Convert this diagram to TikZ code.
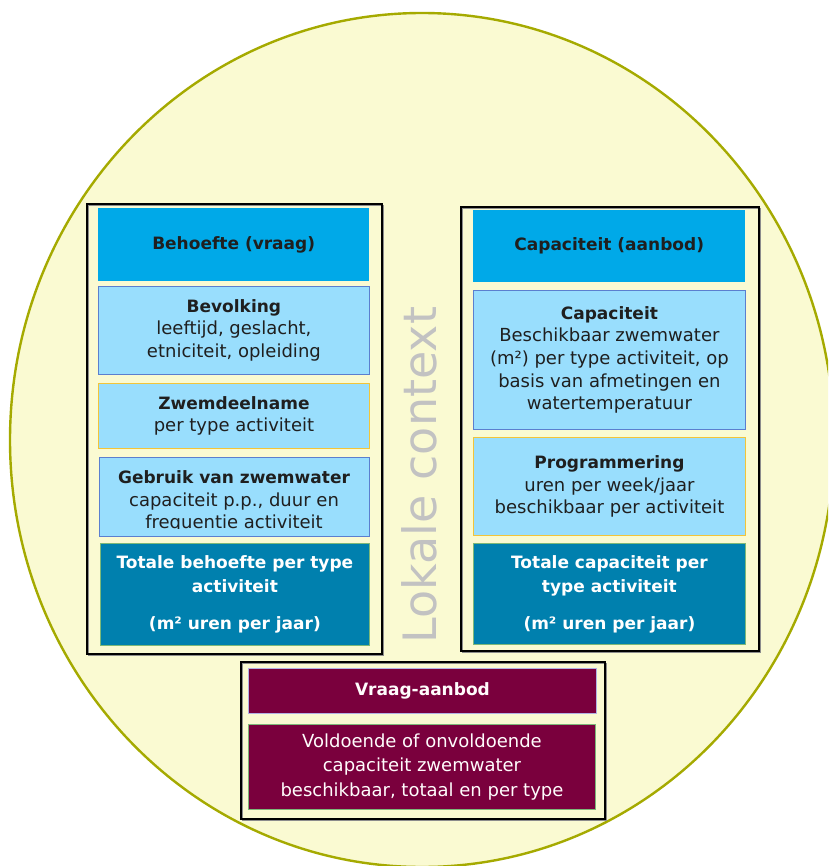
\documentclass[tikz,border=0pt]{standalone}
\usepackage{fontspec}
\setmainfont{DejaVu Sans}
\begin{document}
\begin{tikzpicture}[x=1pt,y=-1pt,
  txt/.style={text=black!88, align=center, font=\fontsize{18}{22.7}\selectfont},
  outerbox/.style={draw=black, line width=2.2pt},
  shadowline/.style={black!45, line width=0.8pt},
  headbox/.style={fill=headblue, draw=none, inner sep=0pt, anchor=north west, text=black!88, font=\fontsize{17}{22}\selectfont\bfseries},
  lbox/.style={fill=lightblue, draw=bordblue, line width=0.8pt, inner sep=0pt, anchor=north west, txt},
  ybox/.style={fill=lightblue, draw=bordyel, line width=0.9pt, inner sep=0pt, anchor=north west, txt},
  tbox/.style={fill=darkteal, draw=bordgreen, line width=0.8pt, inner sep=0pt, anchor=north west, text=white, align=center, font=\fontsize{17}{24}\selectfont\bfseries},
  mbox/.style={fill=maroon, line width=0.9pt, inner sep=0pt, anchor=north west, text=white!95!pink, align=center, font=\fontsize{18}{24.5}\selectfont}]
\definecolor{headblue}{HTML}{00A9E8}
\definecolor{lightblue}{HTML}{99DEFD}
\definecolor{bordblue}{HTML}{5B7FCF}
\definecolor{bordyel}{HTML}{F2C53A}
\definecolor{darkteal}{HTML}{0080AE}
\definecolor{bordgreen}{HTML}{7DB878}
\definecolor{maroon}{HTML}{7A003D}
\definecolor{ellfill}{HTML}{FAFAD2}
\definecolor{elldraw}{HTML}{A5AA00}
\useasboundingbox (0,0) rectangle (828,866);
\begin{scope}
\clip (0,0) rectangle (828,866);
\draw[fill=ellfill, draw=elldraw, line width=2.4pt] (422,440) ellipse [x radius=412, y radius=427];
\end{scope}
% Lokale context
\node[rotate=90, text=black!24, font=\fontsize{46}{46}\selectfont, inner sep=0pt] (ctx) at (419,475) {Lokale context};
% outer boxes
\draw[shadowline] (88,205) rectangle (383,655);
\node[outerbox, minimum width=295, minimum height=450, anchor=north west, inner sep=0pt] (left) at (86,203) {};
\draw[shadowline] (462,208) rectangle (760,652);
\node[outerbox, minimum width=298, minimum height=444, anchor=north west, inner sep=0pt] (right) at (460,206) {};
\draw[shadowline] (242,663) rectangle (606,820);
\node[outerbox, minimum width=364, minimum height=157, anchor=north west, inner sep=0pt] (bottom) at (240,661) {};
% left column
\node[headbox, minimum width=271, minimum height=73] (lhead) at (98,208) {Behoefte (vraag)};
\node[lbox, minimum width=271, minimum height=88] (bev) at (98,286) {\textbf{\fontsize{17}{22}\selectfont Bevolking}\\leeftijd, geslacht,\\etniciteit, opleiding};
\node[ybox, minimum width=271, minimum height=65] (zwem) at (98,383) {\textbf{\fontsize{17}{22}\selectfont Zwemdeelname}\\per type activiteit};
\node[lbox, minimum width=270, minimum height=79] (gebr) at (99,457) {};
\begin{scope}
\clip (100,458) rectangle (368,528.5);
\node[txt] (gebrtxt) at (234,501.5) {\textbf{\fontsize{17}{22}\selectfont Gebruik van zwemwater}\\capaciteit p.p., duur en\\frequentie activiteit};
\end{scope}
\node[tbox, minimum width=269, minimum height=102] (ltot) at (100,543) {Totale behoefte per type\\activiteit\\[13pt](m² uren per jaar)};
% right column
\node[headbox, minimum width=272, minimum height=72] (rhead) at (473,210) {Capaciteit (aanbod)};
\node[lbox, minimum width=272, minimum height=139] (cap) at (473,290) {\textbf{\fontsize{17}{22}\selectfont Capaciteit}\\Beschikbaar zwemwater\\(m²) per type activiteit, op\\basis van afmetingen en\\watertemperatuur};
\node[ybox, minimum width=272, minimum height=98] (prog) at (473,437) {\textbf{\fontsize{17}{22}\selectfont Programmering}\\uren per week/jaar\\beschikbaar per activiteit};
\node[tbox, minimum width=272, minimum height=101] (rtot) at (473,543) {Totale capaciteit per\\type activiteit\\[13pt](m² uren per jaar)};
% bottom
\node[mbox, draw=black!35!blue!30, minimum width=348, minimum height=45, font=\fontsize{17}{22}\selectfont\bfseries] (vahead) at (248,668) {Vraag-aanbod};
\node[mbox, draw=bordgreen, minimum width=347, minimum height=85] (va) at (248,724) {Voldoende of onvoldoende\\capaciteit zwemwater\\beschikbaar, totaal en per type};
\end{tikzpicture}
\end{document}
